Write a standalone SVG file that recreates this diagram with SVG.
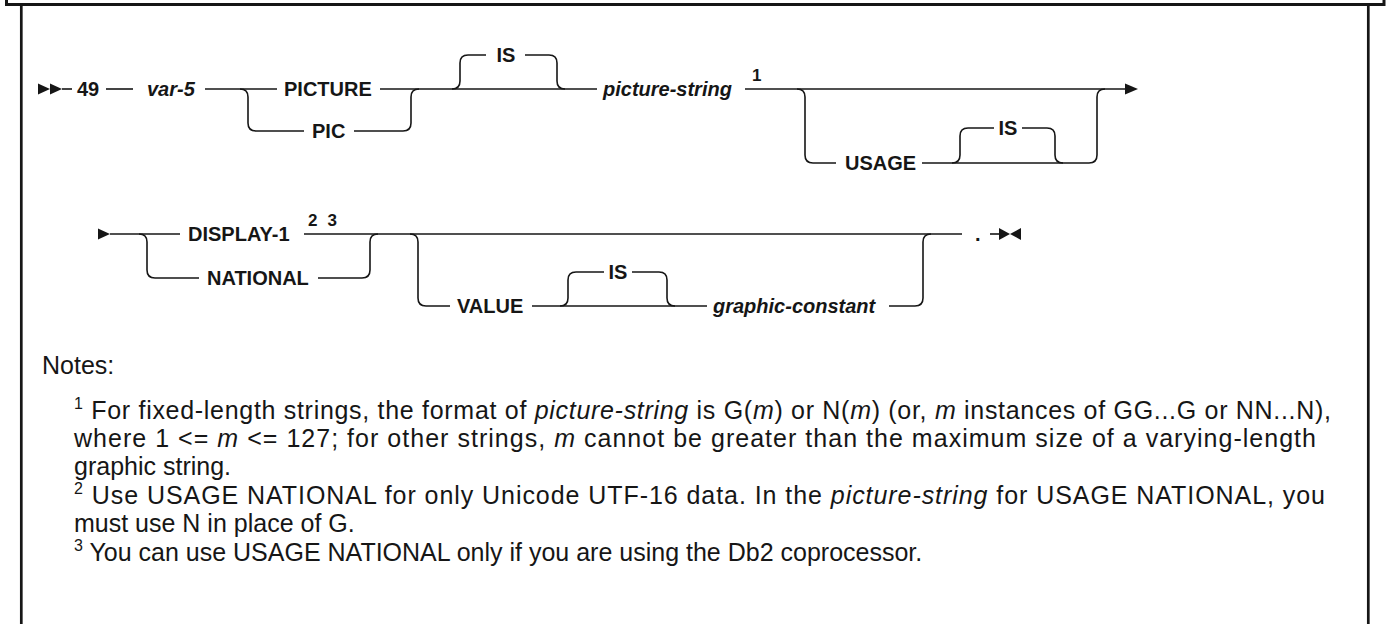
<svg xmlns="http://www.w3.org/2000/svg" width="1389" height="624" viewBox="0 0 1389 624">
<style>
.kw{font-family:"Liberation Sans",Arial,sans-serif;font-weight:bold;font-size:20px;fill:#161616}
.var{font-style:italic}
.sup{font-size:17px}
.ln{fill:none;stroke:#161616;stroke-width:1.6}
.ah{fill:#161616;stroke:none}
.note{font-family:"Liberation Sans",Arial,sans-serif;font-size:25px;fill:#161616}
.ns{font-size:16px}
.it{font-style:italic}
.frame{fill:none;stroke:#161616}
</style>
<rect width="1389" height="624" fill="#ffffff"/>
<g id="frame" class="frame">
<path d="M6.5,0 V4.5 H1384 V0" stroke-width="3"/>
<line x1="21.3" y1="5" x2="21.3" y2="624" stroke-width="2.7"/>
<line x1="1368.3" y1="5" x2="1368.3" y2="624" stroke-width="2.7"/>
</g>
<g id="connectors" class="ln">
<path d="M62,89 H72"/>
<path d="M106,89 H133"/>
<path d="M205,89 H277"/>
<path d="M380,89 H597"/>
<path d="M240,89 Q248,89 248,97 V123 Q248,131 256,131 H304"/>
<path d="M354,131 H403 Q411,131 411,123 V97 Q411,89 419,89"/>
<path d="M452,89 Q460,89 460,81 V63 Q460,55 468,55 H486"/>
<path d="M525,55 H549 Q557,55 557,63 V81 Q557,89 565,89"/>
<path d="M745,89 H1126"/>
<path d="M797,89 Q805,89 805,97 V155 Q805,163 813,163 H836"/>
<path d="M922,163 H1089 Q1097,163 1097,155 V97 Q1097,89 1105,89"/>
<path d="M952,163 Q960,163 960,155 V136 Q960,128 968,128 H994"/>
<path d="M1022,128 H1047 Q1055,128 1055,136 V155 Q1055,163 1063,163"/>
<path d="M110,234 H180"/>
<path d="M304,234 H962"/>
<path d="M139,234 Q147,234 147,242 V270 Q147,278 155,278 H199"/>
<path d="M318,278 H362 Q370,278 370,270 V242 Q370,234 378,234"/>
<path d="M410,234 Q418,234 418,242 V298 Q418,306 426,306 H450"/>
<path d="M532,306 H707"/>
<path d="M889,306 H915 Q923,306 923,298 V242 Q923,234 931,234"/>
<path d="M560,306 Q568,306 568,298 V280 Q568,272 576,272 H604"/>
<path d="M632,272 H659 Q667,272 667,280 V298 Q667,306 675,306"/>
<path d="M990,234 H1000"/>
</g>
<g id="arrowheads" class="ah">
<polygon points="38,83.5 50,89 38,94.5"/>
<polygon points="50,83.5 62,89 50,94.5"/>
<polygon points="1125,83.5 1138,89 1125,94.5"/>
<polygon points="98,228.5 110,234 98,239.5"/>
<polygon points="999,228 1010,234 999,240"/>
<polygon points="1021,228 1010,234 1021,240"/>
</g>
<g id="n-49"><text class="kw" x="77" y="96">49</text></g>
<g id="n-var5"><text class="kw var" x="147" y="96">var-5</text></g>
<g id="n-picture"><text class="kw" x="284" y="96">PICTURE</text></g>
<g id="n-pic"><text class="kw" x="312" y="138">PIC</text></g>
<g id="n-is1"><text class="kw" x="506" y="62" text-anchor="middle">IS</text></g>
<g id="n-picstring"><text class="kw var" x="603" y="96">picture-string</text><text class="kw sup" x="752" y="81">1</text></g>
<g id="n-usage"><text class="kw" x="845" y="170">USAGE</text></g>
<g id="n-is2"><text class="kw" x="1008" y="135" text-anchor="middle">IS</text></g>
<g id="n-display1"><text class="kw" x="188" y="241">DISPLAY-1</text><text class="kw sup" x="308" y="226" textLength="29">2 3</text></g>
<g id="n-national"><text class="kw" x="207" y="285">NATIONAL</text></g>
<g id="n-value"><text class="kw" x="457" y="313">VALUE</text></g>
<g id="n-is3"><text class="kw" x="618" y="279" text-anchor="middle">IS</text></g>
<g id="n-graphic"><text class="kw var" x="713" y="313">graphic-constant</text></g>
<g id="n-period"><text class="kw" x="975" y="241">.</text></g>
<g id="notes">
<text class="note" x="42" y="374">Notes:</text>
<text class="note" x="74" y="419" textLength="1257"><tspan class="ns" dy="-10">1</tspan><tspan dy="10"> For fixed-length strings, the format of </tspan><tspan class="it">picture-string</tspan> is G(<tspan class="it">m</tspan>) or N(<tspan class="it">m</tspan>) (or, <tspan class="it">m</tspan> instances of GG...G or NN...N),</text>
<text class="note" x="74" y="447" textLength="1242">where 1 &lt;= <tspan class="it">m</tspan> &lt;= 127; for other strings, <tspan class="it">m</tspan> cannot be greater than the maximum size of a varying-length</text>
<text class="note" x="74" y="475">graphic string.</text>
<text class="note" x="74" y="504" textLength="1251"><tspan class="ns" dy="-10">2</tspan><tspan dy="10"> Use USAGE NATIONAL for only Unicode UTF-16 data. In the </tspan><tspan class="it">picture-string</tspan> for USAGE NATIONAL, you</text>
<text class="note" x="74" y="532">must use N in place of G.</text>
<text class="note" x="74" y="561"><tspan class="ns" dy="-10">3</tspan><tspan dy="10"> You can use USAGE NATIONAL only if you are using the Db2 coprocessor.</tspan></text>
</g>
</svg>
